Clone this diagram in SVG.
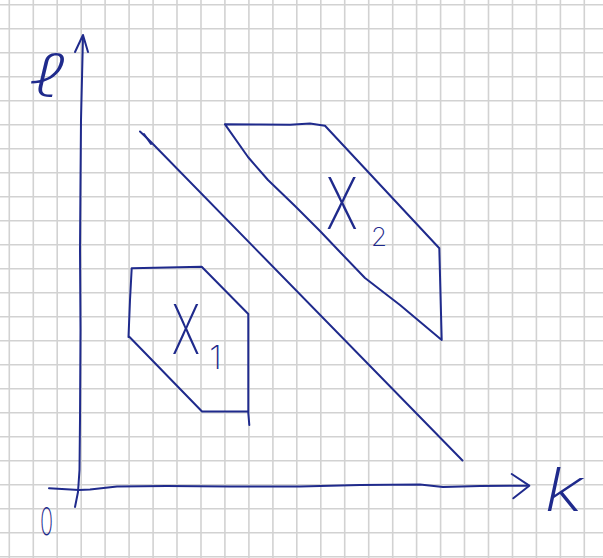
<svg xmlns="http://www.w3.org/2000/svg" width="603" height="558" viewBox="0 0 603 558">
<defs>
<style>
.grid{stroke:#d2d2d2;stroke-width:1.6;fill:none}
.ink{stroke:#1f2a8c;stroke-width:2;fill:none;stroke-linecap:round;stroke-linejoin:round}
.lbl{fill:#1f2a8c;font-family:Inter,"Liberation Sans",sans-serif;font-weight:200;text-anchor:middle}
.cur{fill:#1f2a8c;font-family:Inter,"DejaVu Sans",sans-serif;font-weight:200;font-style:italic;text-anchor:middle}
</style>
</defs>
<rect width="603" height="558" fill="#ffffff"/>
<g id="grid" class="grid">
<path d="M9.3 0V558M33.3 0V558M57.2 0V558M81.2 0V558M105.1 0V558M129.1 0V558M153.1 0V558M177 0V558M201 0V558M224.9 0V558M248.9 0V558M272.9 0V558M296.8 0V558M320.8 0V558M344.7 0V558M368.7 0V558M392.7 0V558M416.6 0V558M440.6 0V558M464.5 0V558M488.5 0V558M512.5 0V558M536.4 0V558M560.4 0V558M584.3 0V558"/>
<path d="M0 4.7H603M0 28.7H603M0 52.7H603M0 76.7H603M0 100.7H603M0 124.7H603M0 148.7H603M0 172.7H603M0 196.7H603M0 220.7H603M0 244.7H603M0 268.7H603M0 292.7H603M0 316.7H603M0 340.7H603M0 364.7H603M0 388.7H603M0 412.7H603M0 436.7H603M0 460.7H603M0 484.7H603M0 508.7H603M0 532.7H603M0 556.7H603"/>
</g>
<g id="axis-l">
<path class="ink" d="M75 507 L78 492 L79.5 470 L80 420 L80.5 330 L80 250 L80.5 180 L81 120 L83 36"/>
<path class="ink" d="M75 52 L83 35 L88 52"/>
<text class="cur" transform="translate(48,97) scale(1.4,1)" x="0" y="0" font-size="60">ℓ</text>
</g>
<g id="axis-k">
<path class="ink" d="M49 488.3 L79 490 L90 489.5 L117 486.5 L167 486 L230 486.5 L300 486.5 L360 485 L420 484.5 L443 487 L480 486 L527 485.7"/>
<path class="ink" d="M511.7 474 L529.3 485.7 L513.3 498.3"/>
<text class="cur" transform="translate(564,511) scale(1.3,1)" x="0" y="0" font-size="60">k</text>
</g>
<g id="origin">
<text class="lbl" transform="translate(46.5,535) scale(0.57,1)" x="0" y="0" font-size="38">0</text>
</g>
<g id="diagonal">
<path class="ink" d="M140 131.5 L150 141 L462.5 460.5"/>
<path class="ink" d="M144 134 L151 144"/>
</g>
<g id="X1">
<path class="ink" d="M131.7 268.3 L201.7 266.7 L248.3 314 L248.3 413 L249.3 425 M248.3 411.5 L202 411.5 L131 338.5 L129 336.5 L128.5 337 L130 300 L131.7 268.3"/>
<text class="lbl" transform="translate(186,354) scale(0.65,1)" x="0" y="0" font-size="68">X</text>
<text class="lbl" x="215.5" y="369" font-size="33">1</text>
</g>
<g id="X2">
<path class="ink" d="M225 124.3 L260 124.6 L290 124.8 L310 123.4 L325 125.7 L439.3 248.3 L441.7 340 L400 305 L365 278 L340 252 L320 231 L295 206 L268 180 L248 157 L225 124.3"/>
<text class="lbl" transform="translate(342,229) scale(0.7,1)" x="0" y="0" font-size="71">X</text>
<text class="lbl" x="379" y="246" font-size="26">2</text>
</g>
</svg>
